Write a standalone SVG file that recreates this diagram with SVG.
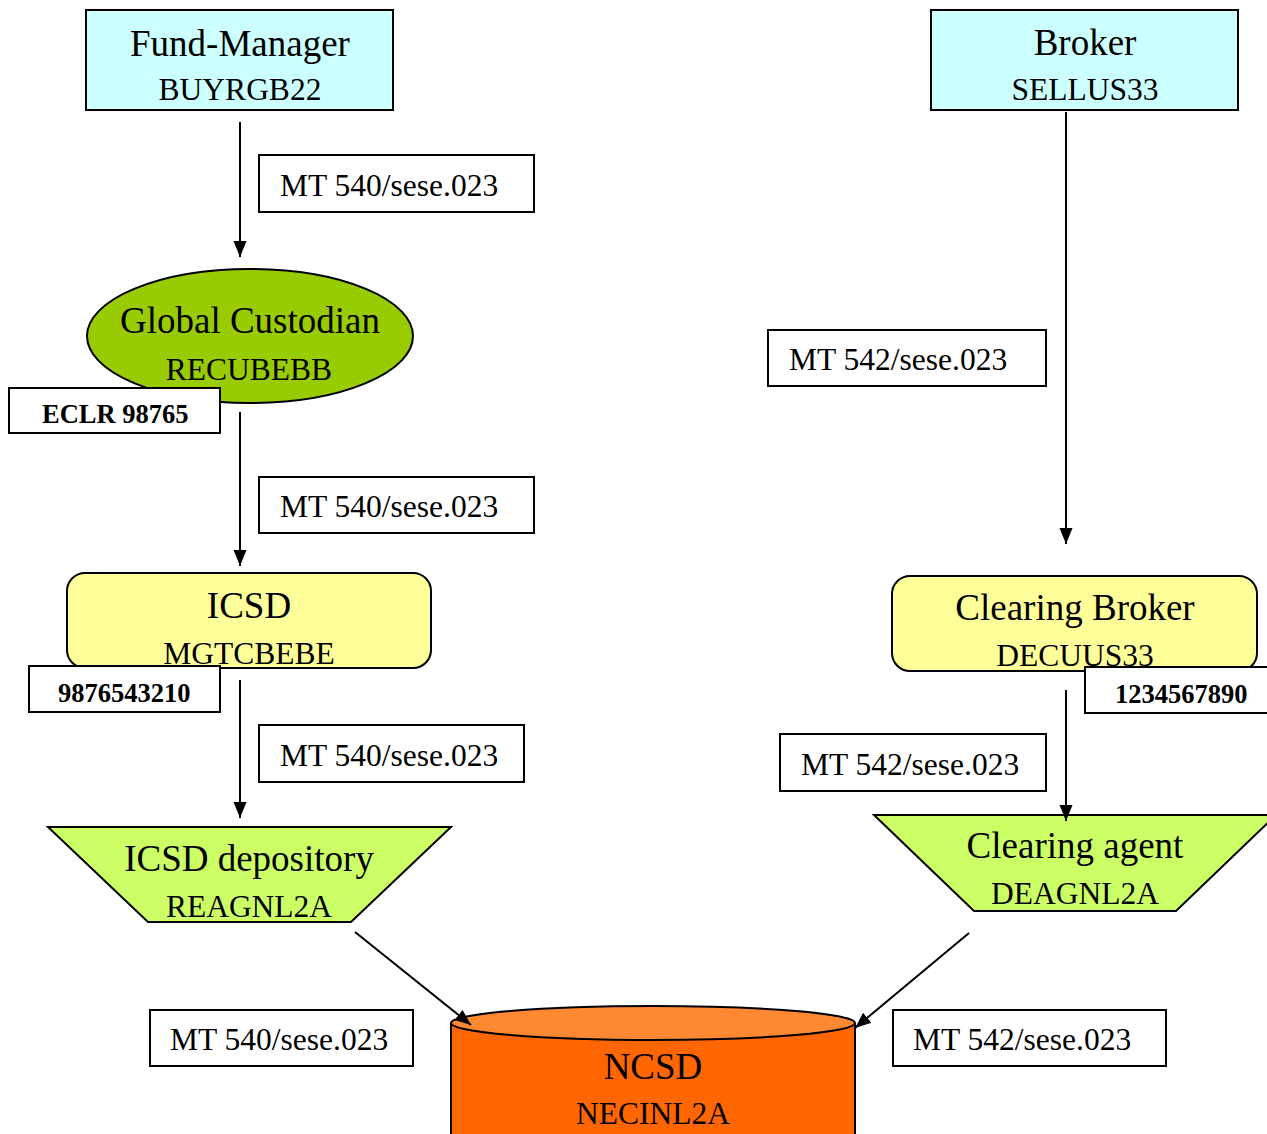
<svg xmlns="http://www.w3.org/2000/svg" width="1267" height="1134" viewBox="0 0 1267 1134">
<style>
.n{stroke:#000;stroke-width:2}
.t{font-family:"Liberation Serif",serif;font-size:37px;text-anchor:middle;fill:#000}
.s{font-family:"Liberation Serif",serif;font-size:31.5px;text-anchor:middle;fill:#000}
.lb{fill:#fff;stroke:#000;stroke-width:2}
.lt{font-family:"Liberation Serif",serif;font-size:31.5px;fill:#000}
.bt{font-family:"Liberation Serif",serif;font-size:26.5px;font-weight:bold;fill:#000}
.c{stroke:#000;stroke-width:2;fill:none;marker-end:url(#ah)}
</style>
<defs>
<marker id="ah" markerUnits="userSpaceOnUse" markerWidth="18" markerHeight="18" viewBox="0 0 18 18" refX="16" refY="9" orient="auto">
<path d="M0,2.5 L16,9 L0,15.5 Z" fill="#000"/>
</marker>
</defs>
<g id="fund-manager">
<rect class="n" x="86" y="10" width="307" height="100" fill="#CCFFFF"/>
<text class="t" x="240" y="56">Fund-Manager</text>
<text class="s" x="240" y="100">BUYRGB22</text>
</g>
<g id="broker">
<rect class="n" x="931" y="10" width="307" height="100" fill="#CCFFFF"/>
<text class="t" x="1085" y="55">Broker</text>
<text class="s" x="1085" y="100">SELLUS33</text>
</g>
<g id="global-custodian">
<ellipse class="n" cx="250" cy="336" rx="163" ry="67" fill="#99CC00"/>
<text class="t" x="250" y="333">Global Custodian</text>
<text class="s" x="249" y="380">RECUBEBB</text>
</g>
<g id="icsd">
<rect class="n" x="67" y="573" width="364" height="95" rx="18" fill="#FFFF99"/>
<text class="t" x="249" y="618">ICSD</text>
<text class="s" x="249" y="664">MGTCBEBE</text>
</g>
<g id="clearing-broker">
<rect class="n" x="892" y="576" width="365" height="95" rx="18" fill="#FFFF99"/>
<text class="t" x="1075" y="620">Clearing Broker</text>
<text class="s" x="1075" y="666">DECUUS33</text>
</g>
<g id="icsd-depository">
<polygon class="n" points="48,827 451,827 351,922 148,922" fill="#CCFF66"/>
<text class="t" x="249" y="871">ICSD depository</text>
<text class="s" x="249" y="917">REAGNL2A</text>
</g>
<g id="clearing-agent">
<polygon class="n" points="874,815 1276,815 1176,911 974,911" fill="#CCFF66"/>
<text class="t" x="1075" y="858">Clearing agent</text>
<text class="s" x="1075" y="904">DEAGNL2A</text>
</g>
<g id="ncsd">
<path class="n" d="M451,1023 L451,1150 L855,1150 L855,1023" fill="#FF6600"/>
<ellipse class="n" cx="653" cy="1023" rx="202" ry="17" fill="#FF8833"/>
<text class="t" x="653" y="1079">NCSD</text>
<text class="s" x="653" y="1124">NECINL2A</text>
</g>
<g id="connectors">
<line class="c" x1="240" y1="122" x2="240" y2="257"/>
<line class="c" x1="240" y1="412" x2="240" y2="566"/>
<line class="c" x1="240" y1="680" x2="240" y2="818"/>
<line class="c" x1="355" y1="932" x2="471" y2="1025"/>
<line class="c" x1="1066" y1="112" x2="1066" y2="544"/>
<line class="c" x1="1066" y1="690" x2="1066" y2="821"/>
<line class="c" x1="969" y1="933" x2="855" y2="1028"/>
</g>
<g id="labels">
<rect class="lb" x="259" y="155" width="275" height="57"/>
<text class="lt" x="280" y="196">MT 540/sese.023</text>
<rect class="lb" x="9" y="388" width="211" height="45"/>
<text class="bt" x="42" y="423">ECLR 98765</text>
<rect class="lb" x="259" y="477" width="275" height="56"/>
<text class="lt" x="280" y="517">MT 540/sese.023</text>
<rect class="lb" x="29" y="666" width="191" height="46"/>
<text class="bt" x="58" y="702">9876543210</text>
<rect class="lb" x="259" y="725" width="265" height="57"/>
<text class="lt" x="280" y="766">MT 540/sese.023</text>
<rect class="lb" x="150" y="1010" width="263" height="56"/>
<text class="lt" x="170" y="1050">MT 540/sese.023</text>
<rect class="lb" x="768" y="330" width="278" height="56"/>
<text class="lt" x="789" y="370">MT 542/sese.023</text>
<rect class="lb" x="1085" y="667" width="190" height="46"/>
<text class="bt" x="1115" y="703">1234567890</text>
<rect class="lb" x="780" y="734" width="266" height="57"/>
<text class="lt" x="801" y="775">MT 542/sese.023</text>
<rect class="lb" x="893" y="1010" width="273" height="56"/>
<text class="lt" x="913" y="1050">MT 542/sese.023</text>
</g>
</svg>
